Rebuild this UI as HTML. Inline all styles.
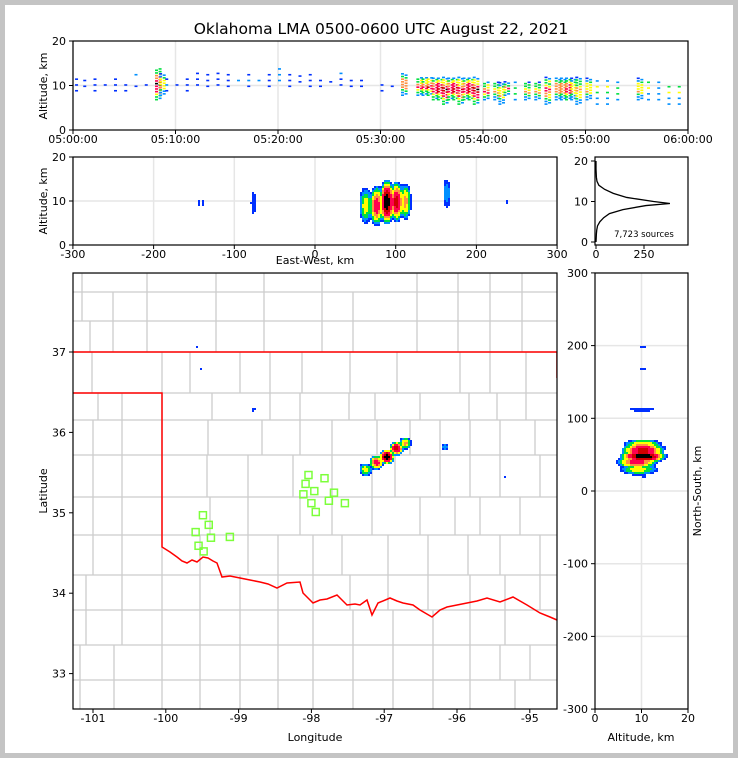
<!DOCTYPE html>
<html><head><meta charset="utf-8">
<style>
html,body{margin:0;padding:0;background:#c4c4c4;}
svg{display:block;}
text{font-family:"DejaVu Sans","Liberation Sans",sans-serif;fill:#000;}
</style></head>
<body>
<svg id="fig" width="738" height="758" xmlns="http://www.w3.org/2000/svg">
<rect x="5" y="5" width="728" height="748" fill="#fff"/>
<text x="381" y="34" font-size="15.5" text-anchor="middle">Oklahoma LMA 0500-0600 UTC August 22, 2021</text>
<g id="g-time"></g>
<g id="g-ew"></g>
<g id="g-hist"></g>
<g id="g-map"></g>
<g id="g-ns"></g>
</svg>
<script>
// ---- time-altitude data ----
const flashTimes = [0.2,1,2,3,4,5,6,7,8,8.4,9,10,11,12,13,14,15,16,17,18,19,20,21,22,23,24,25,26,27,28,30,31,32,33.5,34,34.5,35,35.5,36,36.5,37,37.5,38,38.5,39,40,41,41.5,42,43,44,45,46,47,47.5,48,48.5,49,50,51,52,53,55,56,57,58,59];
const flashAltLo = [9,10,9,9,9,9,10,9,7,8,9,9,9,9,10,9,10,10,10,10,10,10,10,11,10,10,11,9,10,10,9,10,8,8,8,8,7,7,6,7,7,6,7,7,6,7,7,6,8,7,7,7,6,7,7,7,7,6,7,6,6,7,7,7,7,6,6];
const flashAltHi = [13,12,12,12,12,11,15,12,14,13,12,12,12,13,13,13,13,13,13,13,13,14,13,13,13,12,12,14,12,12,11,11,13,12,12,12,12,12,12,12,12,12,12,12,12,11,11,11,11,11,11,11,12,12,12,12,12,12,12,12,12,11,12,12,11,11,11];
const flashDensity = [.2,.2,.2,.2,.2,.2,.3,.2,.9,.6,.3,.2,.2,.2,.2,.2,.2,.3,.3,.3,.2,.3,.2,.2,.2,.2,.1,.2,.1,.1,.1,.1,.7,.7,.7,.8,.8,.9,.9,.8,.9,.8,.8,.9,.9,.7,.6,.6,.6,.5,.6,.6,.7,.7,.7,.8,.6,.6,.6,.5,.5,.5,.6,.5,.4,.5,.5];
// ---- source cluster data ----
const blobLon = [-97.28,-97.13,-96.99,-96.85,-96.73,-96.17,-98.82,-99.58,-99.52,-95.35];
const blobLat = [35.56,35.64,35.72,35.81,35.87,35.82,36.30,37.08,36.80,35.46];
const blobAlt = [9,9,10,10,10,12,10,10,10,10];
const blobAltHalf = [4,4.5,5,4.5,4,3,2.5,0.5,0.5,0.3];
const blobRadiusKm = [6.5,7.5,8,7.5,6,3,1,0.5,0.5,0.3];
const blobDensity = [0.5,0.75,1.0,0.85,0.6,0.3,0.15,0.1,0.1,0.05];
// ---- histogram data ----
const histAlt = [0,1,2,3,4,5,6,7,8,9,9.5,10,11,12,13,14,15,16,17,18,19,20];
const histCount = [0,1,2,4,8,20,40,70,140,260,385,300,160,90,45,15,5,2,1,0,0,0];
// ---- lightning mapping stations ----
const stationLon = [-99.49,-99.41,-99.59,-99.38,-99.12,-99.55,-99.48,-98.04,-98.08,-97.96,-98.11,-98.0,-97.94,-97.82,-97.69,-97.76,-97.54];
const stationLat = [34.97,34.85,34.76,34.69,34.70,34.59,34.52,35.47,35.36,35.27,35.23,35.12,35.01,35.43,35.25,35.15,35.12];
const timeTicks = ["05:00:00","05:10:00","05:20:00","05:30:00","05:40:00","05:50:00","06:00:00"];
const lonTicks = [-101,-100,-99,-98,-97,-96,-95];
const latTicks = [37,36,35,34,33];
const ewTicks = [-300,-200,-100,0,100,200,300];
const nsTicks = [300,200,100,0,-100,-200,-300];
const altTicks = [0,10,20];
const histTicks = [0,250];

const NS="http://www.w3.org/2000/svg";
function el(tag,attrs,parent){const e=document.createElementNS(NS,tag);for(const k in attrs)e.setAttribute(k,attrs[k]);parent.appendChild(e);return e;}
const cmapStops=[[0,'#0030ff'],[.18,'#0090ff'],[.3,'#00e040'],[.42,'#ffff00'],[.55,'#ff9040'],[.65,'#ff0050'],[.78,'#d00000'],[.9,'#000000'],[1.01,'#ffffff']];
function cmap(v){let c=cmapStops[0][1];for(const s of cmapStops){if(v>=s[0])c=s[1];}return c;}

const tX=m=>73+m*(615/60);
const tY=a=>130-a*4.45;
const ewX=k=>315+k*0.807;
const ewY=a=>245-a*4.4;
const lonX=l=>93+(l+101)*72.8;
const latY=l=>352-(l-37)*80.4;
const nsY=k=>491-k*0.727;
const nsX=a=>595+a*4.65;
const hX=c=>596+c*(48/250);
const hY=a=>242-a*4.05;
const CLON=-97.97, CLAT=35.28;
const toEW=l=>(l-CLON)*90.1, toNS=l=>(l-CLAT)*111;

function frame(g,x,y,w,h,name){const r=el('rect',{x:x,y:y,width:w,height:h,fill:'none',stroke:'#000','stroke-width':1.2},g);}
function tick(g,x1,y1,x2,y2){el('line',{x1:x1,y1:y1,x2:x2,y2:y2,stroke:'#000','stroke-width':1},g);}
function label(g,x,y,txt,anchor,name,size,rot){const t=el('text',{x:x,y:y,'font-size':size||11,'text-anchor':anchor||'middle'},g);if(rot)t.setAttribute('transform',`rotate(-90 ${x} ${y})`);t.textContent=txt;return t;}
function grid(g,x1,y1,x2,y2){el('line',{x1:x1,y1:y1,x2:x2,y2:y2,stroke:'#e6e6e6','stroke-width':1.5},g);}

// ===== Time panel =====
(function(){
const g=document.getElementById('g-time');
for(let i=0;i<timeTicks.length;i++){grid(g,tX(i*10),41,tX(i*10),130);}
grid(g,73,tY(10),688,tY(10));
flashTimes.forEach((t,i)=>{
  const lo=flashAltLo[i],hi=flashAltHi[i],d=flashDensity[i],mid=(lo+hi)/2,half=(hi-lo)/2;
  const cols=d>0.5?2:1;
  const step=d>0.5?0.6:1.3;
  for(let c=0;c<cols;c++){
    let k=0;
    for(let a=lo+(c*0.3);a<=hi;a+=step){
      if(d<=0.3 && (k+i)%2===1 && Math.abs(a-mid)>1){k++;continue;}
      const v=d*(1-0.7*Math.abs(a-mid)/half)+((k+c)%3===0?0.08:-0.04);
      const r=el('rect',{x:tX(t+c*0.35),y:tY(a),width:3,height:1.6,fill:cmap(Math.max(0,v))},g);
      
      
      k++;
    }
  }
});
frame(g,73,41,615,89,'time-panel-frame');
altTicks.forEach(v=>{tick(g,69,tY(v),73,tY(v));label(g,66,tY(v)+4,String(v),'end','time-y-tick',11);});
timeTicks.forEach((s,i)=>{tick(g,tX(i*10),130,tX(i*10),134);label(g,tX(i*10),143,s,'middle','time-x-tick',11);});
label(g,47,86,'Altitude, km','middle','time-y-axis-title',11,true);
})();

function raster(g,px,py,cellX,cellY,mode,name){
  const cells={};
  blobLon.forEach((lon,b)=>{
    const ew=toEW(lon),ns=toNS(blobLat[b]),R=blobRadiusKm[b],alt=blobAlt[b],ah=blobAltHalf[b],d=blobDensity[b];
    let cx,cy,rx,ry;
    if(mode==='ew'){cx=ewX(ew);cy=ewY(alt);rx=R*0.807+1.5;ry=ah*4.4+1;}
    else if(mode==='ns'){cx=nsX(alt);cy=nsY(ns);rx=ah*4.65+1;ry=R*0.727+1.5;}
    else{cx=lonX(lon);cy=latY(blobLat[b]);rx=R*0.8+1.5;ry=R*0.8+1.5;}
    for(let x=cx-rx;x<=cx+rx;x+=cellX)for(let y=cy-ry;y<=cy+ry;y+=cellY){
      const nx=(x-cx)/rx,ny=(y-cy)/ry,r2=nx*nx+ny*ny;if(r2>1)continue;
      const v=d*(1-r2*0.9);
      const key=Math.round(x/cellX)+'_'+Math.round(y/cellY);
      if(!cells[key]||cells[key][2]<v)cells[key]=[Math.round(x/cellX)*cellX,Math.round(y/cellY)*cellY,v];
    }
  });
  Object.values(cells).sort((a,b)=>a[2]-b[2]).forEach(c=>{
    const r=el('rect',{x:c[0],y:c[1],width:cellX,height:cellY,fill:cmap(c[2])},g);
    
    
  });
}

// ===== EW panel =====
(function(){
const g=document.getElementById('g-ew');
ewTicks.forEach(v=>grid(g,ewX(v),157,ewX(v),245));
grid(g,73,ewY(10),557,ewY(10));
raster(g,0,0,2,2,'ew','ew-source');
frame(g,73,157,484,88,'ew-panel-frame');
altTicks.forEach(v=>{tick(g,69,ewY(v),73,ewY(v));label(g,66,ewY(v)+4,String(v),'end','ew-y-tick',11);});
ewTicks.forEach(v=>{tick(g,ewX(v),245,ewX(v),249);label(g,ewX(v),258,String(v),'middle','ew-x-tick',11);});
label(g,315,264,'East-West, km','middle','ew-x-axis-title',11);
label(g,47,201,'Altitude, km','middle','ew-y-axis-title',11,true);
})();

// ===== Histogram =====
(function(){
const g=document.getElementById('g-hist');
const pts=histAlt.map((a,i)=>hX(histCount[i])+','+hY(a)).join(' ');
const p=el('polyline',{points:pts,fill:'none',stroke:'#000','stroke-width':1.3},g);


frame(g,595,157,93,88,'histogram-frame');
[0,10,20].forEach(v=>{tick(g,591,hY(v),595,hY(v));label(g,588,hY(v)+4,String(v),'end','hist-y-tick',11);});
histTicks.forEach(v=>{tick(g,hX(v),245,hX(v),249);label(g,hX(v),258,String(v),'middle','hist-x-tick',11);});
label(g,644,237,'7,723 sources','middle','source-count',8.5);
})();

// ===== Map =====
(function(){
const g=document.getElementById('g-map');
const cp=el('clipPath',{id:'mapclip'},g);
el('rect',{x:73,y:273,width:484,height:436},cp);
const cg=el('g',{'clip-path':'url(#mapclip)'},g);
const rows=[[273,292,[82,147,216,264,322,417,458,490,522]],[292,321,[82,113,147,216,264,322,353,417,458,490,522]],[321,352,[90,113,147,216,264,322,353,417,458,490,522]],
[352,393,[92,162,190,240,270,302,350,397,460,490,526]],[393,420,[98,122,162,212,270,300,349,375,420,469,497,526]],[420,455,[93,122,162,208,262,300,332,377,410,440,470,500,535]],
[455,497,[93,122,162,207,248,293,332,372,395,440,470,500,540]],[497,535,[93,122,162,210,248,300,332,372,420,455,480,520]],[535,575,[93,122,162,200,248,278,313,342,388,428,468,500,540]],
[575,610,[86,122,162,200,240,278,313,350,388,428,470,505,540]],[610,645,[86,122,162,200,240,278,313,353,393,433,470,505]],[645,680,[80,114,162,200,240,278,313,353,393,433,470,500,530]],[680,709,[80,114,162,200,240,278,313,353,393,433,470,515]]];
rows.forEach(r=>{
  el('line',{x1:73,y1:r[0],x2:557,y2:r[0],stroke:'#cccccc','stroke-width':1.3},cg);
  r[2].forEach(x=>el('line',{x1:x,y1:r[0],x2:x,y2:r[1],stroke:'#cccccc','stroke-width':1.3},cg));
});
const rr=[[162,547],[170,552],[177,557],[182,561],[187,563],[192,560],[197,562],[203,557],[208,558],[213,561],[217,563],[222,577],[230,576],[240,578],[250,580],[260,582],[268,584],[277,588],[287,583],[300,582],[303,593],[313,603],[320,600],[327,599],[337,595],[347,605],[355,604],[360,605],[367,600],[372,615],[378,603],[390,598],[397,601],[403,603],[413,605],[420,610],[432,617],[440,610],[447,607],[457,605],[467,603],[477,601],[487,598],[500,602],[513,597],[527,605],[540,613],[550,617],[557,620]];
const b1=el('polyline',{points:'73,393 162,393 '+rr.map(p=>p.join(',')).join(' '),fill:'none',stroke:'#ff0000','stroke-width':1.5},cg);


const b2=el('polyline',{points:'73,352 557,352 557,378',fill:'none',stroke:'#ff0000','stroke-width':1.5},cg);


raster(cg,0,0,2,2,'map','map-source');
stationLon.forEach((l,i)=>{
  const r=el('rect',{x:lonX(l)-3.5,y:latY(stationLat[i])-3.5,width:7,height:7,fill:'none',stroke:'#7cff3a','stroke-width':1.5},cg);
  
  
});
frame(g,73,273,484,436,'map-frame');
lonTicks.forEach(v=>{tick(g,lonX(v),709,lonX(v),713);label(g,lonX(v),722,String(v),'middle','lon-tick',11);});
latTicks.forEach(v=>{tick(g,69,latY(v),73,latY(v));label(g,66,latY(v)+4,String(v),'end','lat-tick',11);});
label(g,315,741,'Longitude','middle','x-axis-title',11);
label(g,47,491,'Latitude','middle','y-axis-title',11,true);
})();

// ===== NS panel =====
(function(){
const g=document.getElementById('g-ns');
nsTicks.forEach(v=>grid(g,595,nsY(v),688,nsY(v)));
grid(g,nsX(10),273,nsX(10),709);
raster(g,0,0,2,2,'ns','ns-source');
frame(g,595,273,93,436,'ns-panel-frame');
nsTicks.forEach(v=>{tick(g,591,nsY(v),595,nsY(v));label(g,588,nsY(v)+4,String(v),'end','ns-y-tick',11);});
altTicks.forEach(v=>{tick(g,nsX(v),709,nsX(v),713);label(g,nsX(v),722,String(v),'middle','ns-x-tick',11);});
label(g,641,741,'Altitude, km','middle','ns-x-axis-title',11);
label(g,701,491,'North-South, km','middle','ns-y-axis-title',11,true);
})();
</script>
</body></html>
